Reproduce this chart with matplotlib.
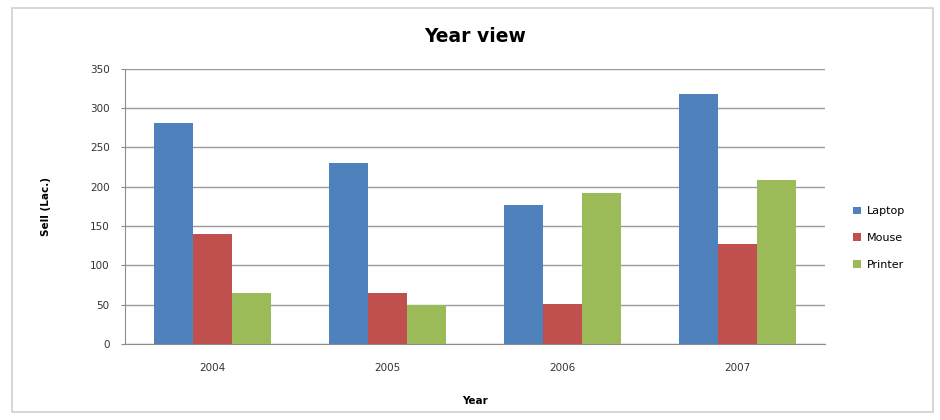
import numpy as np
import matplotlib
matplotlib.use("Agg")
import matplotlib.pyplot as plt
from matplotlib.patches import Rectangle

# Values
years = ["2004", "2005", "2006", "2007"]
laptop = [281, 230, 177, 318]
mouse = [140, 65, 51, 127]
printer = [65, 50, 192, 208]

series = ["Laptop", "Mouse", "Printer"]
colors = ["#4F81BD", "#C0504D", "#9BBB59"]

fig = plt.figure(figsize=(9.4, 4.2), dpi=100)
ax = fig.add_axes([0.133, 0.181, 0.745, 0.655])

x = np.arange(len(years))
w = 0.222
for i, (vals, name, c) in enumerate(zip([laptop, mouse, printer], series, colors)):
    ax.bar(x + (i - 1) * w, vals, width=w, color=c, label=name, zorder=3)

ax.set_xlim(-0.5, 3.5)
ax.set_ylim(0, 350)
ax.set_yticks(np.arange(0, 351, 50))
ax.set_xticks(x)
ax.set_xticklabels(years)
ax.grid(True, axis="y", color="#9a9a9a", linewidth=1, zorder=0)
for s in ["top", "right"]:
    ax.spines[s].set_visible(False)
for s in ["left", "bottom"]:
    ax.spines[s].set_color("#8c8c8c")
ax.tick_params(axis="both", colors="#8c8c8c", labelcolor="#333333", labelsize=7.5, length=3)
ax.tick_params(axis="y", pad=8)
ax.tick_params(axis="x", length=0, pad=14)

ax.set_title("Year view", fontsize=13.5, fontweight="bold", pad=19)
ax.set_xlabel("Year", fontsize=7.5, fontweight="bold", labelpad=16)
ax.set_ylabel("Sell (Lac.)", fontsize=7.5, fontweight="bold", labelpad=28)

ax.legend(loc="center left", bbox_to_anchor=(1.025, 0.385), frameon=False,
          fontsize=8, handlelength=0.7, handleheight=0.7, labelspacing=1.5,
          handletextpad=0.6)

# light outer chart border
fig.patches.append(Rectangle((0.013, 0.02), 0.98, 0.96, transform=fig.transFigure,
                             fill=False, edgecolor="#d0d0d0", linewidth=1.2))

fig.savefig("out.png", dpi=100)
